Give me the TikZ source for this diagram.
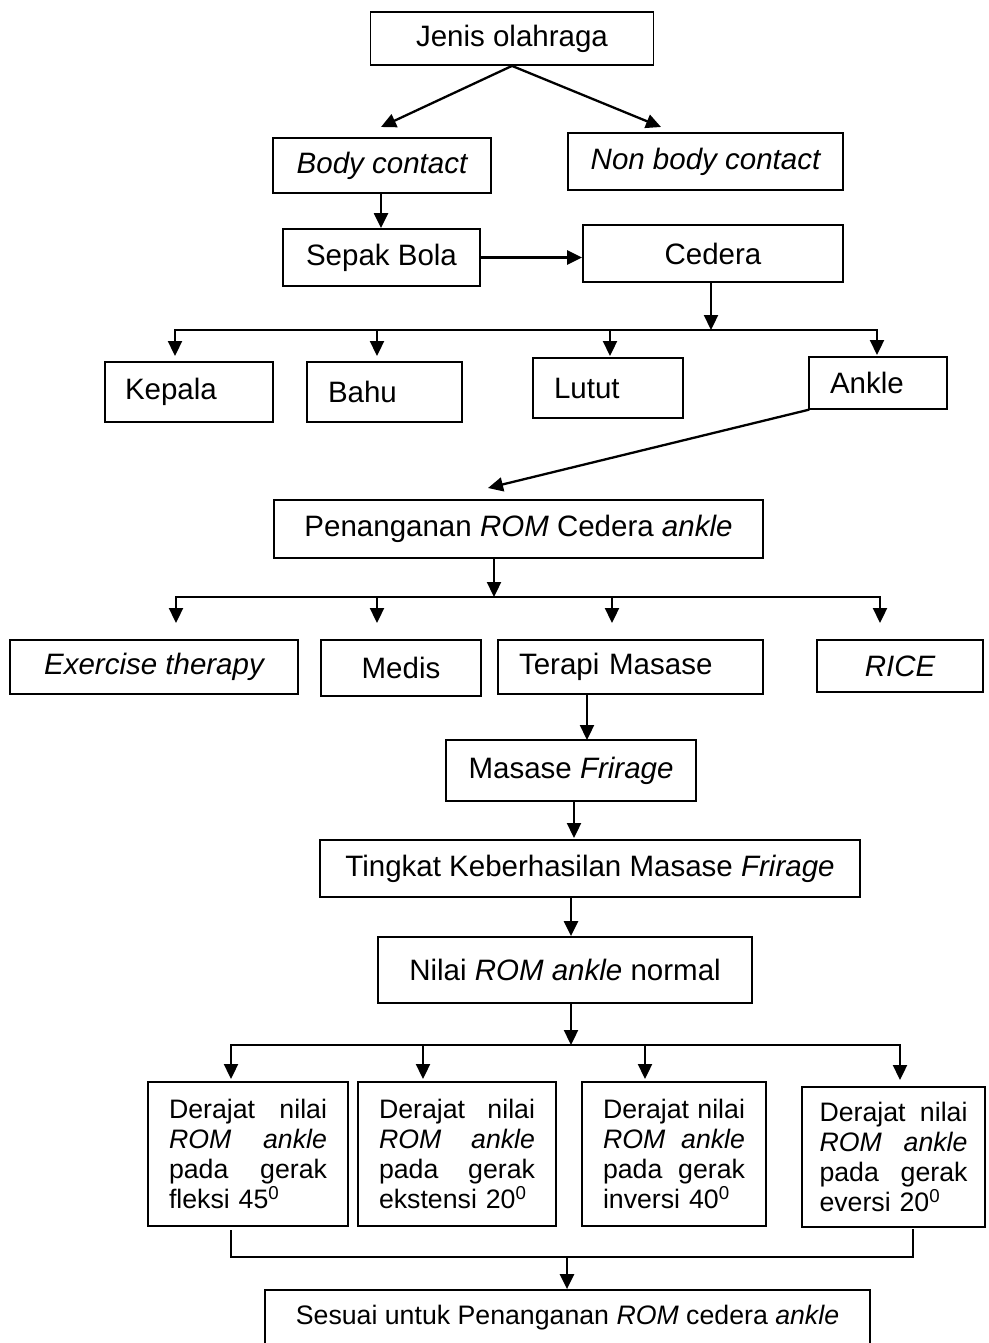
\documentclass[tikz,border=0pt]{standalone}
\usepackage{fontspec}
\setmainfont{Liberation Sans}
\usetikzlibrary{arrows.meta}
\begin{document}
\begin{tikzpicture}[x=1pt,y=-1pt,
  box/.style={draw, line width=1.8pt, inner sep=0pt, font=\fontsize{29.5}{33}\selectfont},
  lbox/.style={box, align=left},
  dbox/.style={draw, line width=1.8pt, inner ysep=0pt, inner xsep=21pt, align=left, font=\fontsize{26.7}{30}\selectfont},
  arr/.style={line width=2.3pt, line cap=rect, -{Triangle[length=15pt,width=14pt]}},
  ln/.style={line width=2.3pt, line cap=rect},
  thin/.style={line width=1.2pt}]
\useasboundingbox (0,0) rectangle (988,1343);
\clip (0,0) rectangle (988,1343);
% nodes
\node[box, minimum width=283pt, minimum height=53pt] (jenis) at (512,38.5) {Jenis olahraga};
\node[box, minimum width=218pt, minimum height=55pt] (body) at (382,165.5) {\itshape Body contact};
\node[box, minimum width=275pt, minimum height=57pt] (non) at (705.5,161.5) {\itshape Non body contact};
\node[box, minimum width=197pt, minimum height=57pt] (sepak) at (381.5,257.5) {Sepak Bola};
\node[box, minimum width=260pt, minimum height=57pt] (cedera) at (713,253.5) {Cedera};
\node[lbox, text width=128pt, inner xsep=20pt, minimum height=60pt] (kepala) at (189,392) {Kepala};
\node[lbox, text width=113pt, inner xsep=21pt, minimum height=60pt] (bahu) at (384.5,392) {Bahu};
\node[lbox, text width=108pt, inner xsep=21pt, minimum height=60pt] (lutut) at (608,388) {Lutut};
\node[lbox, text width=96pt, inner xsep=21pt, minimum height=52pt] (ankle) at (878,383) {Ankle};
\node[box, minimum width=489pt, minimum height=58pt] (pen) at (518.5,529) {Penanganan \textit{ROM} Cedera \textit{ankle}};
\node[box, minimum width=288pt, minimum height=54pt] (ex) at (154,667) {\itshape Exercise therapy};
\node[box, minimum width=160pt, minimum height=56pt] (medis) at (401,668) {Medis};
\node[lbox, text width=223pt, inner xsep=21pt, minimum height=54pt] (terapi) at (630.5,667) {Terapi Masase};
\node[box, minimum width=166pt, minimum height=52pt] (rice) at (900,666) {\itshape RICE};
\node[box, minimum width=250pt, minimum height=61pt] (masase) at (571,770.5) {Masase \textit{Frirage}};
\node[box, minimum width=540pt, minimum height=57pt] (tingkat) at (590,868.5) {Tingkat Keberhasilan Masase \textit{Frirage}};
\node[box, minimum width=374pt, minimum height=66pt] (nilai) at (565,970) {Nilai \textit{ROM ankle} normal\hspace{10pt}};
\node[dbox, text width=158pt, minimum height=144pt] (d1) at (248,1154) {Derajat\hfill nilai\\ \textit{ROM}\hfill\textit{ankle}\\ pada\hfill gerak\\ fleksi 45\textsuperscript{0}};
\node[dbox, text width=156pt, minimum height=144pt] (d2) at (457,1154) {Derajat\hfill nilai\\ \textit{ROM}\hfill\textit{ankle}\\ pada\hfill gerak\\ ekstensi 20\textsuperscript{0}};
\node[dbox, text width=142pt, minimum height=144pt] (d3) at (674,1154) {Derajat\hfill nilai\\ \textit{ROM}\hfill\textit{ankle}\\ pada\hfill gerak\\ inversi 40\textsuperscript{0}};
\node[dbox, text width=148pt, inner xsep=17.5pt, minimum height=140pt] (d4) at (893.5,1157) {Derajat\hfill nilai\\ \textit{ROM}\hfill\textit{ankle}\\ pada\hfill gerak\\ eversi 20\textsuperscript{0}};
\node[box, minimum width=605pt, minimum height=56pt, font=\fontsize{26.7}{30}\selectfont] (sesuai) at (567.5,1318) {Sesuai untuk Penanganan \textit{ROM} cedera \textit{ankle}};
% coordinates
\coordinate (tBody) at (381,127);
\coordinate (tNon) at (661,127);
\coordinate (b1) at (711,330);
\coordinate (b1l) at (175,330);
\coordinate (b1r) at (877,330);
\coordinate (tPen) at (488,488);
\coordinate (p2) at (494,558);
\coordinate (b2) at (494,597);
\coordinate (b2l) at (176,597);
\coordinate (b2r) at (880,597);
\coordinate (b3) at (571,1045);
\coordinate (b3l) at (231,1045);
\coordinate (b3r) at (900,1045);
\coordinate (cl) at (231,1257);
\coordinate (cr) at (913,1257);
\coordinate (cm) at (567,1257);
% connectors
\draw[arr] (jenis.south) -- (tBody);
\draw[arr] (jenis.south) -- (tNon);
\draw[arr] (body.south -| tBody) -- (tBody |- sepak.north);
\draw[arr] (sepak.east) -- (sepak.east -| cedera.west);
\draw[arr] (cedera.south -| b1) -- (b1);
\draw[ln] (b1l) -- (b1r);
\draw[arr] (b1l) -- (b1l |- 0,356);
\draw[arr] (b1 -| 377,0) -- (377,356);
\draw[arr] (b1 -| 610,0) -- (610,356);
\draw[arr] (b1r) -- (b1r |- 0,355);
\draw[arr] (ankle.south west) -- (tPen);
\draw[arr] (p2) -- (b2);
\draw[ln] (b2l) -- (b2r);
\draw[arr] (b2l) -- (b2l |- 0,623);
\draw[arr] (b2 -| 377,0) -- (377,623);
\draw[arr] (b2 -| 612,0) -- (612,623);
\draw[arr] (b2r) -- (b2r |- 0,623);
\draw[arr] (terapi.south -| 587,0) -- (587 ,740);
\draw[arr] (masase.south -| 574,0) -- (574,838);
\draw[arr] (tingkat.south -| b3) -- (b3 |- nilai.north);
\draw[arr] (nilai.south -| b3) -- (b3);
\draw[ln] (b3l) -- (b3r);
\draw[arr] (b3l) -- (b3l |- 0,1079);
\draw[arr] (b3 -| 423,0) -- (423,1079);
\draw[arr] (b3 -| 645,0) -- (645,1079);
\draw[arr] (b3r) -- (b3r |- 0,1080);
\draw[thin] (cl |- 0,1230) -- (cl);
\draw[thin] (cr |- 0,1229) -- (cr);
\draw[ln] (cl) -- (cr);
\draw[arr] (cm) -- (cm |- sesuai.north);
\end{tikzpicture}
\end{document}
